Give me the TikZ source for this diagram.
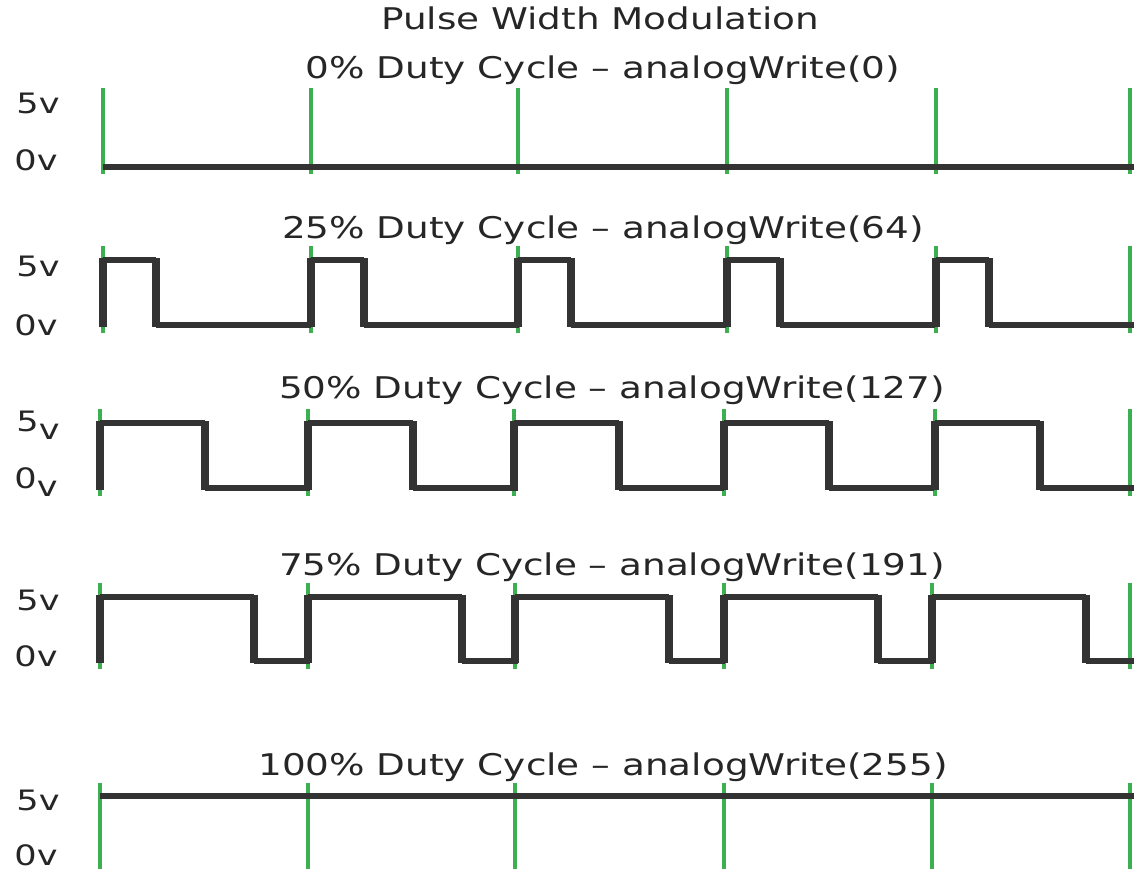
\documentclass[tikz,border=0pt]{standalone}
\usepackage{fontspec}
\setmainfont{DejaVu Sans}
\newfontfamily\pwmfont[FakeStretch=1.25]{DejaVu Sans}
\definecolor{pwmgreen}{RGB}{60,175,80}
\definecolor{pwmgray}{RGB}{51,51,51}
\tikzstyle{tick}=[draw=pwmgreen, line width=2.1pt]
\tikzstyle{wave}=[draw=pwmgray, line width=3.2pt]
\tikzstyle{edge}=[draw=pwmgray, line width=5pt]
\tikzstyle{lvl}=[inner sep=0pt, text=black!85, font=\pwmfont\fontsize{16}{16}\selectfont]
\tikzstyle{ttl}=[inner sep=0pt, text=black!85, font=\pwmfont\fontsize{17}{17}\selectfont]

\begin{document}
\begin{tikzpicture}[x=0.02cm, y=-0.02cm]
      \useasboundingbox[fill=white] (0,0) rectangle (1134,871);

      \node[ttl] (title) at (600,18) {Pulse Width Modulation};

      % 0% duty cycle
      \node[ttl] (t0) at (603,70) {0\% Duty Cycle \textendash{} analogWrite(0)};
      \node[lvl] (h0) at (38,103) {5v};
      \node[lvl] (l0) at (36,160) {0v};
      \foreach \x in {103,311,518,727,936,1130}
        \draw[tick] (\x,88) -- (\x,174);
      \draw[wave] (103,167) -- (1134,167);

      % 25% duty cycle
      \node[ttl] (t25) at (603,230) {25\% Duty Cycle \textendash{} analogWrite(64)};
      \node[lvl] (h25) at (38,266) {5v};
      \node[lvl] (l25) at (36,325) {0v};
      \foreach \x in {103,311,518,727,936,1130}
        \draw[tick] (\x,246) -- (\x,333);
      \foreach \x in {103,311,518,727,936} {
        \draw[wave] (\x,260) -- (\x+53,260);
        \draw[wave] (\x+53,325) -- (\x+208,325);
        \draw[edge] (\x,327) -- (\x,258);
        \draw[edge] (\x+53,258) -- (\x+53,327);
      }

      % 50% duty cycle
      \node[ttl] (t50) at (612,390) {50\% Duty Cycle \textendash{} analogWrite(127)};
      \node[lvl] (h50) at (38,425) {5\raisebox{-0.55ex}{v}};
      \node[lvl] (l50) at (36,482) {0\raisebox{-0.55ex}{v}};
      \foreach \x in {100,308,514,724,935,1130}
        \draw[tick] (\x,409) -- (\x,496);
      \foreach \x in {100,308,514,724,935} {
        \draw[wave] (\x,423) -- (\x+105,423);
        \draw[wave] (\x+105,488) -- (\x+210,488);
        \draw[edge] (\x,490) -- (\x,421);
        \draw[edge] (\x+105,421) -- (\x+105,490);
      }

      % 75% duty cycle
      \node[ttl] (t75) at (612,567) {75\% Duty Cycle \textendash{} analogWrite(191)};
      \node[lvl] (h75) at (38,600) {5v};
      \node[lvl] (l75) at (36,656) {0v};
      \foreach \x in {100,308,515,724,932,1130}
        \draw[tick] (\x,583) -- (\x,669);
      \foreach \x in {100,308,515,724,932} {
        \draw[wave] (\x,597) -- (\x+154,597);
        \draw[wave] (\x+154,661) -- (\x+210,661);
        \draw[edge] (\x,663) -- (\x,595);
        \draw[edge] (\x+154,595) -- (\x+154,663);
      }

      % 100% duty cycle
      \node[ttl] (t100) at (603,767) {100\% Duty Cycle \textendash{} analogWrite(255)};
      \node[lvl] (h100) at (38,800) {5v};
      \node[lvl] (l100) at (36,855) {0v};
      \foreach \x in {100,308,515,724,932,1130}
        \draw[tick] (\x,783) -- (\x,869);
      \draw[wave] (100,796) -- (1134,796);
    \end{tikzpicture}
\end{document}
